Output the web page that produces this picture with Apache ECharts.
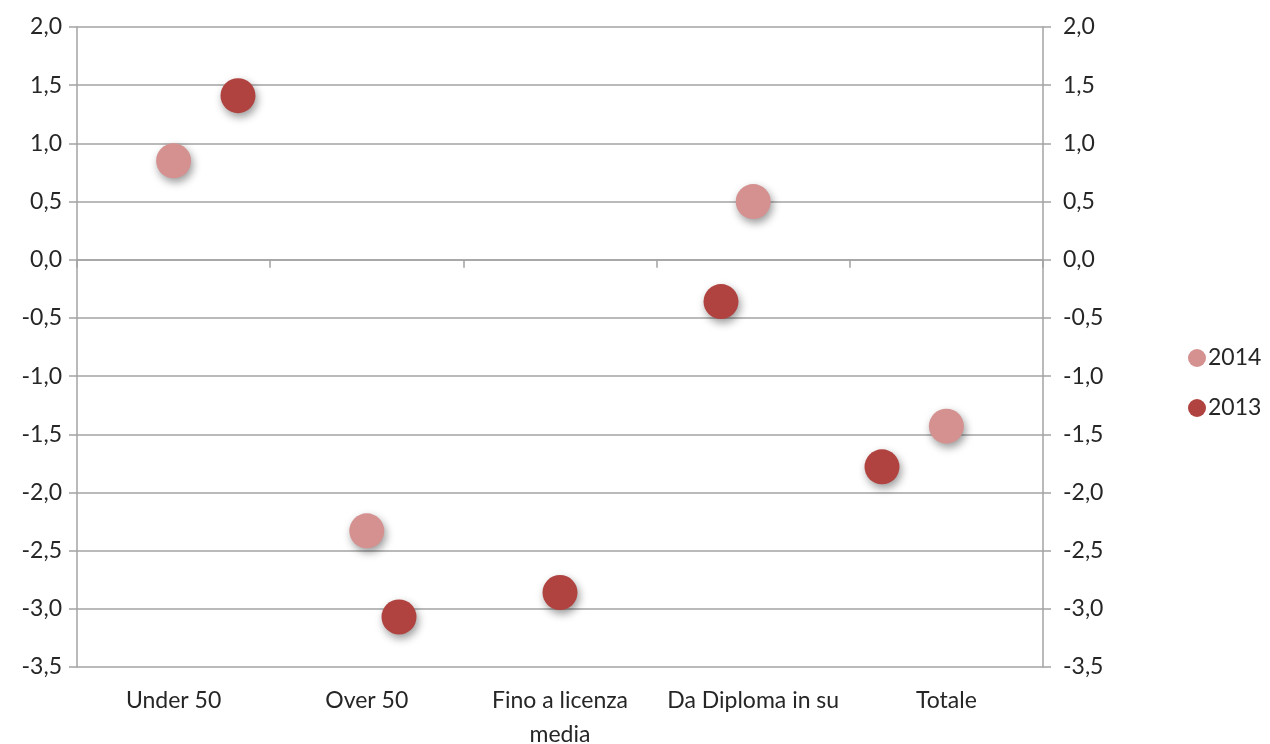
<!DOCTYPE html>
<html>
<head>
<meta charset="utf-8">
<script src="https://cdn.jsdelivr.net/npm/echarts@6/dist/echarts.min.js"></script>
<style>
  html, body { margin: 0; padding: 0; background: #fff; }
  #chart { width: 1270px; height: 744px; }
</style>
</head>
<body>
<div id="chart"></div>
<script>
// Categories along the horizontal axis
const categories = ['Under 50', 'Over 50', 'Fino a licenza\nmedia', 'Da Diploma in su', 'Totale'];
// Variations per group and year
const values2014 = [0.85, -2.33, null, 0.50, -1.43];
const values2013 = [1.41, -3.07, -2.86, -0.36, -1.78];
// 2013 points sit on their own horizontal scale (0..6, one step per group)
const positions2013 = [1, 2, 3, 4, 5];
// Vertical scale
const yMin = -3.5, yMax = 2.0, yStep = 0.5;

const fontFamily = 'Lato, "Open Sans", sans-serif';
const textColor = '#262626';
const lineColor = '#a3a3a3';
const fmt = v => v.toFixed(1).replace('.', ',');

const shadow = { shadowColor: 'rgba(0,0,0,0.4)', shadowBlur: 8, shadowOffsetX: 2, shadowOffsetY: 4 };

const chart = echarts.init(document.getElementById('chart'), null, { renderer: 'canvas' });
chart.setOption({
  animation: false,
  backgroundColor: '#fff',
  grid: { left: 77, right: 227, top: 27, bottom: 77, containLabel: false, outerBoundsMode: 'none' },
  legend: {
    orient: 'vertical',
    left: 1183,
    top: 339,
    itemGap: 22,
    itemWidth: 18,
    itemHeight: 18,
    textStyle: { fontFamily, fontSize: 23, lineHeight: 28, color: textColor, padding: [0, 0, 0, -3] },
    data: [
      { name: '2014', icon: 'circle' },
      { name: '2013', icon: 'circle' }
    ]
  },
  xAxis: [
    {
      // axis line crossing at zero with the group separators
      type: 'category',
      data: categories,
      boundaryGap: true,
      axisLine: { onZero: true, lineStyle: { color: lineColor, width: 1.5 } },
      axisTick: { show: true, length: 8, lineStyle: { color: lineColor, width: 1.5 } },
      axisLabel: { show: false },
      splitLine: { show: false }
    },
    {
      // group names along the bottom edge
      type: 'category',
      data: categories,
      position: 'bottom',
      boundaryGap: true,
      axisLine: { show: false, onZero: false },
      axisTick: { show: false },
      axisLabel: { show: true, interval: 0, hideOverlap: false, margin: 17, fontFamily, fontSize: 23, color: textColor, lineHeight: 34 },
      splitLine: { show: false }
    },
    {
      type: 'value',
      min: 0,
      max: 6,
      show: false
    }
  ],
  yAxis: [
    {
      type: 'value',
      min: yMin,
      max: yMax,
      interval: yStep,
      position: 'left',
      axisLine: { show: true, onZero: false, lineStyle: { color: lineColor, width: 1.5 } },
      axisTick: { show: true, length: 8, lineStyle: { color: lineColor, width: 1.5 } },
      axisLabel: { formatter: fmt, fontFamily, fontSize: 23, color: textColor, margin: 15 },
      splitLine: { show: true, lineStyle: { color: lineColor, width: 1.5 } }
    },
    {
      type: 'value',
      min: yMin,
      max: yMax,
      interval: yStep,
      position: 'right',
      axisLine: { show: true, onZero: false, lineStyle: { color: lineColor, width: 1.5 } },
      axisTick: { show: true, length: 8, lineStyle: { color: lineColor, width: 1.5 } },
      axisLabel: { formatter: fmt, fontFamily, fontSize: 23, color: textColor, margin: 20 },
      splitLine: { show: false }
    }
  ],
  series: [
    {
      name: '2014',
      type: 'scatter',
      xAxisIndex: 0,
      yAxisIndex: 0,
      symbol: 'circle',
      symbolSize: 35,
      itemStyle: Object.assign({ color: '#d49190', opacity: 1 }, shadow),
      data: values2014,
      z: 3
    },
    {
      name: '2013',
      type: 'scatter',
      xAxisIndex: 2,
      yAxisIndex: 0,
      symbol: 'circle',
      symbolSize: 35,
      itemStyle: Object.assign({ color: '#b04340', opacity: 1 }, shadow),
      data: positions2013.map((x, i) => [x, values2013[i]]),
      z: 4
    }
  ]
});
</script>
</body>
</html>
